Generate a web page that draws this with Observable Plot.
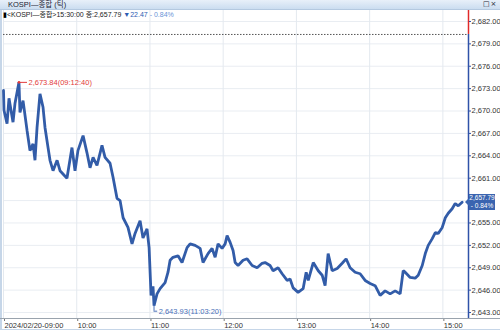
<!DOCTYPE html>
<html><head><meta charset="utf-8">
<script src="https://cdn.jsdelivr.net/npm/d3@7"></script>
<script src="https://cdn.jsdelivr.net/npm/@observablehq/plot@0.6"></script>
<style>
body{margin:0;background:#fff;}
#wrap{position:relative;width:500px;height:330px;overflow:hidden;background:#fff;font-family:"Liberation Sans Narrow","Liberation Sans","Noto Sans CJK KR",sans-serif;}
#bar{position:absolute;left:0;top:0;width:500px;height:10px;background:linear-gradient(#e8f0f9,#cbddf0);border-bottom:1px solid #b4c9e0;box-sizing:border-box;font-size:7.5px;line-height:9px;color:#223;}
#bar .t{position:absolute;left:8px;top:0;}
#bar .ic{position:absolute;left:483px;top:0;font-size:7px;font-family:"DejaVu Sans",sans-serif;letter-spacing:1px;}
#plot{position:absolute;left:0;top:10px;}
#info{position:absolute;left:3px;top:10px;font-size:7px;line-height:9px;color:#222;white-space:nowrap;}
#lstrip{position:absolute;left:0;top:10px;width:2px;height:320px;background:#c6d6e8;}
#xline{position:absolute;left:0;top:318px;width:500px;height:1px;background:#9aa3ad;}
#bline{position:absolute;left:0;top:329px;width:500px;height:1px;background:#c6d6e8;}
#endlab{position:absolute;left:469px;width:26px;height:16px;background:#3a64b0;color:#fff;font-size:6.5px;line-height:8px;text-align:center;}
#endarrow{position:absolute;left:465px;width:0;height:0;border-top:4px solid transparent;border-bottom:4px solid transparent;border-right:4px solid #3a64b0;}
</style></head>
<body>
<div id="wrap">
  <div id="bar"><span class="t">KOSPI—종합 (틱)</span><span class="ic">□×</span></div>
  <div id="plot"></div>
  <div id="lstrip"></div>
  <div id="xline"></div>
  <div id="bline"></div>
  <div id="info"></div>
</div>
<script>
// ---- data ----
const title = "KOSPI—종합 (틱)";
const closeTime = "15:30:00";
const lastPrice = 2657.79;
const change = -22.47;
const changePct = -0.84;
const prevClose = 2680.26;

const times = ["09:00:00","09:00:24","09:02:54","09:04:30","09:07:48","09:09:24","09:12:40","09:13:30","09:16:00","09:19:18",
"09:21:42","09:24:12","09:25:48","09:27:30","09:29:54","09:32:24","09:34:00","09:36:30","09:38:06","09:40:36",
"09:43:54","09:46:18","09:52:00","09:56:06","09:58:36","10:01:00","10:05:12","10:08:24","10:10:54","10:13:24",
"10:16:36","10:20:42","10:23:12","10:27:18","10:29:48","10:31:24","10:33:00","10:35:30","10:38:00","10:42:00",
"10:45:18","10:47:48","10:51:54","10:54:18","10:57:36","10:59:18","11:00:54","11:02:30","11:03:20","11:05:48",
"11:08:18","11:12:24","11:14:48","11:16:30","11:18:54","11:23:00","11:26:18","11:30:24","11:32:54","11:37:00",
"11:41:06","11:43:30","11:47:36","11:50:54","11:53:24","11:55:48","11:59:06","12:01:36","12:03:12","12:05:42",
"12:08:06","12:09:48","12:12:12","12:16:18","12:19:36","12:23:42","12:27:48","12:31:54","12:34:18","12:38:24",
"12:40:54","12:45:00","12:48:18","12:52:24","12:54:48","12:57:18","13:01:24","13:05:30","13:08:00","13:09:42",
"13:13:48","13:17:54","13:21:06","13:23:30","13:26:00","13:29:18","13:33:24","13:37:30","13:40:42","13:44:00",
"13:48:06","13:52:12","13:56:18","14:00:24","14:04:30","14:08:36","14:12:42","14:16:48","14:20:54","14:25:00",
"14:27:30","14:29:06","14:33:12","14:37:18","14:39:48","14:43:06","14:45:36","14:48:00","14:51:18","14:53:48",
"14:56:12","14:59:30","15:02:00","15:04:24","15:07:36","15:10:06","15:12:36","15:15:48"];
const values = [2672.75,2670.1,2668.3,2671.7,2668.5,2671.0,2673.84,2669.8,2671.4,2667.4,
2664.7,2665.6,2663.4,2667.8,2672.3,2670.5,2667.8,2665.1,2663.4,2662.0,
2663.4,2662.0,2661.0,2665.1,2662.0,2664.7,2666.7,2664.4,2662.4,2663.8,
2662.7,2665.4,2663.8,2663.0,2661.1,2659.7,2658.3,2658.0,2655.7,2654.4,
2652.2,2653.6,2655.3,2653.0,2654.2,2651.7,2645.3,2646.5,2643.93,2645.5,
2646.2,2647.0,2648.4,2650.0,2650.4,2650.6,2649.7,2651.7,2652.2,2652.0,
2651.6,2649.7,2650.9,2651.6,2650.4,2652.2,2651.6,2652.2,2653.3,2652.4,
2651.3,2649.7,2649.3,2650.0,2650.2,2649.3,2649.0,2649.6,2649.7,2649.3,
2648.6,2649.0,2648.2,2647.3,2647.5,2646.3,2645.7,2646.2,2648.4,2647.3,
2649.7,2648.6,2648.0,2646.6,2650.9,2648.6,2648.9,2649.6,2650.2,2649.0,
2648.4,2648.2,2647.3,2646.9,2646.6,2645.3,2645.9,2645.5,2645.9,2645.5,
2648.6,2648.4,2647.7,2647.6,2648.0,2649.3,2650.9,2652.0,2652.9,2653.7,
2653.6,2654.4,2655.7,2656.3,2656.9,2657.6,2657.3,2657.79];

const highTime = "09:12:40", highValue = 2673.84;
const lowTime = "11:03:20", lowValue = 2643.93;

// grid levels; the 2,658.00 label is hidden behind the last-price tag in the reference
const yTicks = [2643,2646,2649,2652,2655,2658,2661,2664,2667,2670,2673,2676,2679,2682];
const yLabelTicks = [2643,2646,2649,2652,2655,2661,2664,2667,2670,2673,2676,2679,2682];
const xTickTimes = ["09:00","10:00","11:00","12:00","13:00","14:00","15:00"];
const xTickLabels = ["2024/02/20-09:00","10:00","11:00","12:00","13:00","14:00","15:00"];

// ---- build ----
const toMin = s => { const p = s.split(":").map(Number); return (p[0]-9)*60 + p[1] + (p[2]||0)/60; };
const data = times.map((t,i) => ({t: toMin(t), v: values[i]}));
const xTicks = xTickTimes.map(toMin);
const labelOf = new Map(xTicks.map((m,i)=>[m, xTickLabels[i]]));
const fmt = d3.format(",.2f");
const high = [{t: toMin(highTime), v: highValue, time: highTime}];
const low = [{t: toMin(lowTime), v: lowValue, time: lowTime}];
const yMin = 2642.2, yMax = 2683.47;
const xMax = 381;

const red = "#e23b3b", blue = "#325ca8", lowBlue = "#4a70b8";

const chart = Plot.plot({
  width: 500, height: 320,
  marginLeft: 3, marginRight: 32, marginTop: 0, marginBottom: 12,
  style: {background: "transparent", fontFamily: '"Liberation Sans Narrow","Liberation Sans",sans-serif', color: "#333"},
  x: {domain: [0, xMax], axis: null, label: null},
  y: {domain: [yMin, yMax], axis: null, label: null},
  marks: [
    Plot.gridY(yTicks, {stroke: "#e9edf2", strokeOpacity: 1}),
    Plot.gridX(xTicks, {stroke: "#e4e9ef", strokeOpacity: 1}),
    Plot.ruleY([prevClose], {stroke: "#555", strokeDasharray: "1.5,1.5", strokeWidth: 1}),
    Plot.line(data, {x: "t", y: "v", stroke: blue, strokeWidth: 2.8, strokeLinejoin: "miter"}),
    // right axis line: red above previous close, blue below
    Plot.ruleX([xMax], {y1: prevClose, y2: yMax, stroke: "#e02a2a", strokeWidth: 1.5}),
    Plot.ruleX([xMax], {y1: yMin, y2: prevClose, stroke: "#2f52a8", strokeWidth: 1.5}),
    Plot.axisY({anchor: "right", label: null, ticks: yLabelTicks, tickFormat: fmt, tickSize: 2, tickPadding: 1, fontSize: 7.5, stroke: "#2f52a8"}),
    Plot.axisX({anchor: "bottom", label: null, ticks: xTicks, tickFormat: d => labelOf.get(d), tickSize: 3, tickPadding: 1, textAnchor: "start", dx: 1, fontSize: 7.5, stroke: "#777"}),
    // high annotation
    Plot.ruleY(high, {y: "v", x1: "t", x2: d => d.t + 7, stroke: red, strokeWidth: 1}),
    Plot.dot(high, {x: "t", y: "v", r: 1.3, fill: red}),
    Plot.text(high, {x: d => d.t + 7, y: "v", text: d => fmt(d.v) + "(" + d.time + ")", textAnchor: "start", dx: 1, fill: red, fontSize: 7.5}),
    // low annotation
    Plot.ruleX(low, {x: "t", y1: "v", y2: d => d.v - 0.75, stroke: lowBlue, strokeWidth: 1}),
    Plot.ruleY(low, {y: d => d.v - 0.75, x1: "t", x2: d => d.t + 3, stroke: lowBlue, strokeWidth: 1}),
    Plot.text(low, {x: d => d.t + 3, y: d => d.v - 0.75, text: d => fmt(d.v) + "(" + d.time + ")", textAnchor: "start", dx: 1, fill: lowBlue, fontSize: 7.5})
  ]
});
document.getElementById("plot").appendChild(chart);

// info line
document.getElementById("info").innerHTML =
  '<span style="color:#000">▮</span>&lt;KOSPI—종합&gt;' + closeTime + ' 종:' + fmt(lastPrice) +
  ' <span style="color:#2d5db2">▼' + Math.abs(change).toFixed(2) + '</span>' +
  ' <span style="color:#6a93d6">- ' + Math.abs(changePct).toFixed(2) + '%</span>';

// end price label positioned by the y scale
const yPix = chart.scale("y").apply(lastPrice) + 10;
const lab = document.createElement("div");
lab.id = "endlab";
lab.style.top = (yPix - 8) + "px";
lab.innerHTML = fmt(lastPrice) + "<br>- " + Math.abs(changePct).toFixed(2) + "%";
const arr = document.createElement("div");
arr.id = "endarrow";
arr.style.top = (yPix - 4) + "px";
document.getElementById("wrap").appendChild(arr);
document.getElementById("wrap").appendChild(lab);
</script>
</body></html>
